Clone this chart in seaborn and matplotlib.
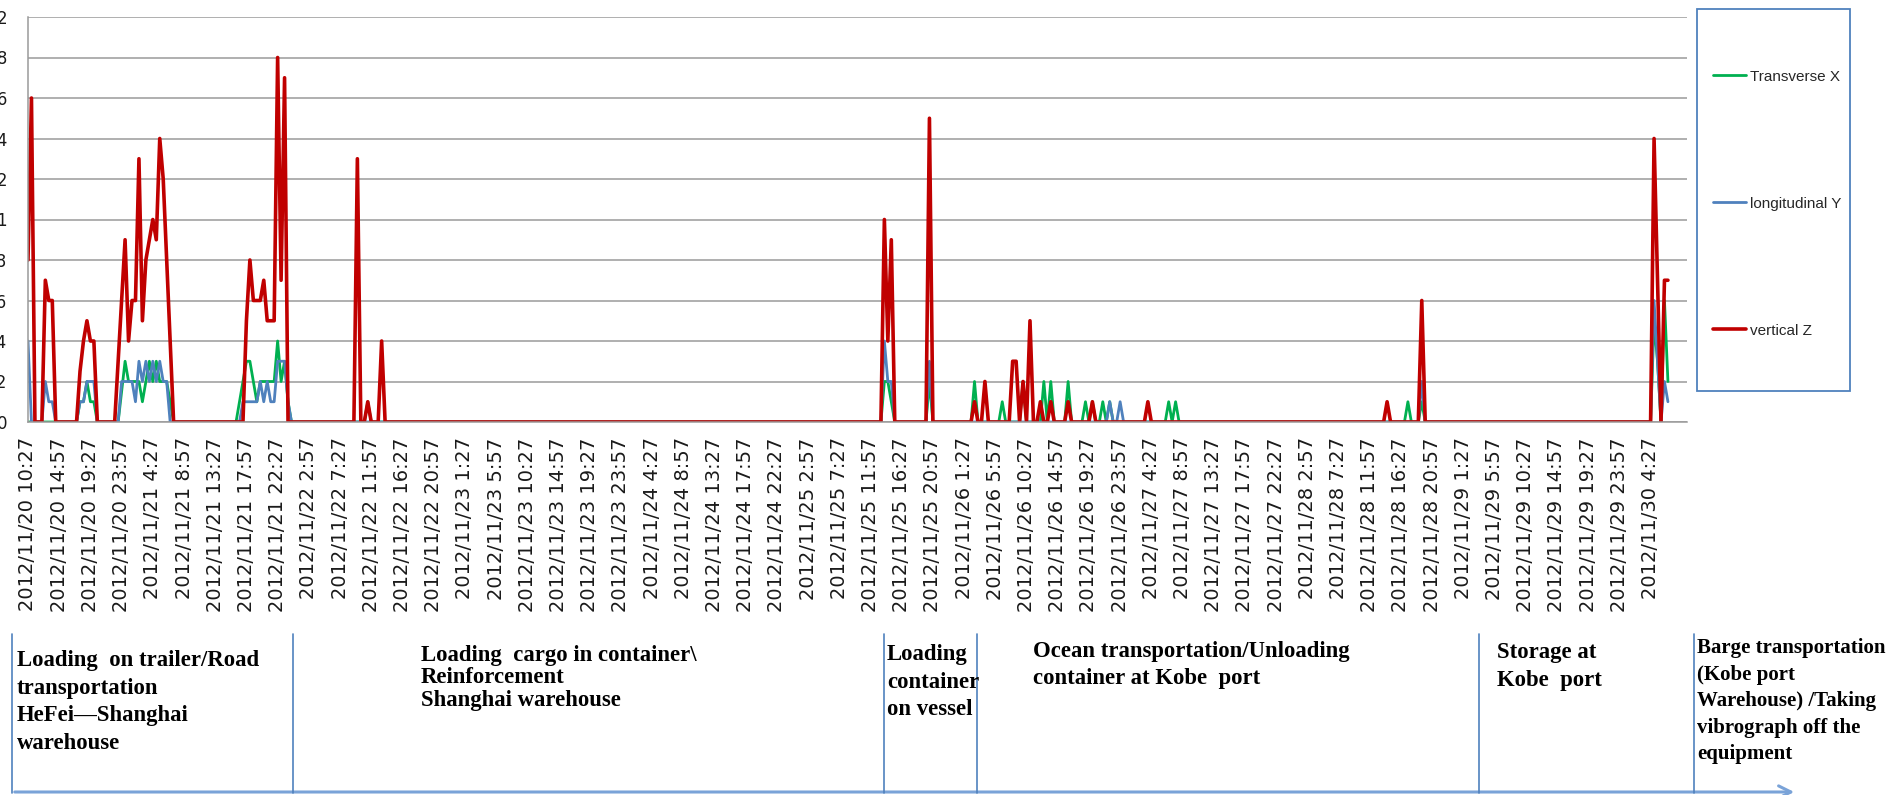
import numpy as np
import pandas as pd
import matplotlib
matplotlib.use("Agg")
import matplotlib.pyplot as plt
import seaborn as sns
from matplotlib.lines import Line2D
from matplotlib.patches import Rectangle, FancyArrowPatch
from matplotlib.ticker import MultipleLocator, FuncFormatter

# ---------------- data ----------------
N_POINTS = 474          # 30-minute samples from 2012/11/20 10:27
TICK_STEP = 9           # one label every 4.5 hours

tick_labels = [
    "2012/11/20 10:27", "2012/11/20 14:57", "2012/11/20 19:27", "2012/11/20 23:57",
    "2012/11/21 4:27", "2012/11/21 8:57", "2012/11/21 13:27", "2012/11/21 17:57", "2012/11/21 22:27",
    "2012/11/22 2:57", "2012/11/22 7:27", "2012/11/22 11:57", "2012/11/22 16:27", "2012/11/22 20:57",
    "2012/11/23 1:27", "2012/11/23 5:57", "2012/11/23 10:27", "2012/11/23 14:57", "2012/11/23 19:27",
    "2012/11/23 23:57",
    "2012/11/24 4:27", "2012/11/24 8:57", "2012/11/24 13:27", "2012/11/24 17:57", "2012/11/24 22:27",
    "2012/11/25 2:57", "2012/11/25 7:27", "2012/11/25 11:57", "2012/11/25 16:27", "2012/11/25 20:57",
    "2012/11/26 1:27", "2012/11/26 5:57", "2012/11/26 10:27", "2012/11/26 14:57", "2012/11/26 19:27",
    "2012/11/26 23:57",
    "2012/11/27 4:27", "2012/11/27 8:57", "2012/11/27 13:27", "2012/11/27 17:57", "2012/11/27 22:27",
    "2012/11/28 2:57", "2012/11/28 7:27", "2012/11/28 11:57", "2012/11/28 16:27", "2012/11/28 20:57",
    "2012/11/29 1:27", "2012/11/29 5:57", "2012/11/29 10:27", "2012/11/29 14:57", "2012/11/29 19:27",
    "2012/11/29 23:57",
    "2012/11/30 4:27",
]

series_names = ["Transverse X", "longitudinal Y", "vertical Z"]

# non-zero stretches: (first sample index, values); all other samples read as 0
transverse_x_segments = [
    (15, [0.1, 0.1, 0.2, 0.1, 0.1, 0]),
    (27, [0.15, 0.3, 0.2, 0.2, 0.2, 0.2, 0.1, 0.2, 0.3, 0.2, 0.3, 0.2, 0.2, 0.2, 0.1, 0]),
    (61, [0.1, 0.2, 0.3, 0.3, 0.2, 0.1, 0.2, 0.2, 0.2, 0.2, 0.2, 0.4, 0.2, 0.3, 0.1, 0]),
    (98, [0.1]),
    (247, [0.2, 0.2, 0.1]),
    (260, [0.2]),
    (273, [0.2]), (281, [0.1]), (287, [0.2]), (293, [0.2]), (295, [0.2]),
    (300, [0.2]), (305, [0.1]), (307, [0.1]), (310, [0.1]), (312, [0.1]),
    (329, [0.1]), (331, [0.1]), (398, [0.1]), (402, [0.1]),
    (469, [0.5, 0.3, 0, 0.6, 0.2]),
]

longitudinal_y_segments = [
    (0, [0.4, 0, 0, 0, 0, 0.2, 0.1, 0.1, 0]),
    (15, [0.1, 0.1, 0.2, 0.2, 0.2, 0]),
    (27, [0.2, 0.2, 0.2, 0.2, 0.1, 0.3, 0.2, 0.3, 0.2, 0.3, 0.2, 0.3, 0.2, 0.2, 0]),
    (62, [0.1, 0.1, 0.1, 0.1, 0.1, 0.2, 0.1, 0.2, 0.1, 0.1, 0.3, 0.3, 0.3, 0.1, 0]),
    (247, [0.4, 0.2, 0.2, 0]),
    (260, [0.3]),
    (312, [0.1]), (315, [0.1]),
    (402, [0.2]),
    (469, [0.6, 0.3, 0, 0.2, 0.1]),
]

vertical_z_segments = [
    (0, [0.8, 1.6, 0, 0, 0, 0.7, 0.6, 0.6, 0]),
    (14, [0, 0.25, 0.4, 0.5, 0.4, 0.4, 0]),
    (25, [0, 0.3, 0.6, 0.9, 0.4, 0.6, 0.6, 1.3, 0.5, 0.8, 0.9, 1.0, 0.9, 1.4, 1.2, 0.8, 0.4, 0]),
    (62, [0, 0.5, 0.8, 0.6, 0.6, 0.6, 0.7, 0.5, 0.5, 0.5, 1.8, 0.7, 1.7, 0]),
    (94, [0, 1.3, 0, 0, 0.1, 0, 0, 0, 0.4, 0]),
    (246, [0, 1.0, 0.4, 0.9, 0]),
    (259, [0, 1.5, 0]),
    (273, [0.1]), (276, [0.2]), (284, [0.3, 0.3]), (287, [0.2]), (289, [0.5]),
    (292, [0.1]), (295, [0.1]), (300, [0.1]), (307, [0.1]), (323, [0.1]),
    (392, [0.1]), (402, [0.6]),
    (469, [1.4, 0.7, 0, 0.7, 0.7]),
]

phase_texts = [
    "Loading  on trailer/Road\ntransportation\nHeFei\u2014Shanghai\nwarehouse",
    "Loading  cargo in container\\\nReinforcement\nShanghai warehouse",
    "Loading\ncontainer\non vessel",
    "Ocean transportation/Unloading\ncontainer at Kobe  port",
    "Storage at\nKobe  port",
    "Barge transportation\n(Kobe port\nWarehouse) /Taking\nvibrograph off the\nequipment",
]


def build(segments):
    arr = np.zeros(N_POINTS)
    for start, vals in segments:
        arr[start:start + len(vals)] = vals
    return arr


sample = np.arange(N_POINTS)
df = pd.DataFrame({
    "sample": sample,
    "Transverse X": build(transverse_x_segments),
    "longitudinal Y": build(longitudinal_y_segments),
    "vertical Z": build(vertical_z_segments),
})

# ---------------- style ----------------
sns.set_style("white")
plt.rcParams["font.family"] = ["DejaVu Sans"]

W, H = 1888, 795
fig = plt.figure(figsize=(W / 100, H / 100), dpi=100)
ax = fig.add_axes([28 / W, (H - 422) / H, 1659 / W, 405 / H])

colors = {"Transverse X": "#00B050", "longitudinal Y": "#4F81BD", "vertical Z": "#C00000"}
widths = {"Transverse X": 2.0, "longitudinal Y": 2.0, "vertical Z": 2.6}

for name in series_names:
    sns.lineplot(data=df, x="sample", y=name, color=colors[name], linewidth=widths[name],
                 ax=ax, legend=False, errorbar=None)

ax.set_xlim(0, 478.5)
ax.set_ylim(0, 2.0)
ax.set_xlabel("")
ax.set_ylabel("")

ax.set_xticks(np.arange(0, len(tick_labels) * TICK_STEP, TICK_STEP))
ax.set_xticklabels(tick_labels, rotation=90, fontsize=14, color="#1a1a1a")
ax.xaxis.set_minor_locator(MultipleLocator(1))
ax.tick_params(axis="x", which="both", direction="out", length=6, width=0.7,
               color="#8c8c8c", pad=5)
ax.tick_params(axis="x", which="major", labelsize=14)

ax.set_yticks(np.round(np.arange(0, 2.01, 0.2), 1))
ax.yaxis.set_major_formatter(FuncFormatter(lambda v, p: f"{v:g}"))
ax.yaxis.set_minor_locator(MultipleLocator(0.04))
ax.tick_params(axis="y", which="both", direction="in", length=5, width=0.7,
               color="#8c8c8c")
ax.tick_params(axis="y", which="major", pad=15, labelsize=12, labelcolor="#1a1a1a")

ax.grid(axis="y", color="#9a9a9a", linewidth=1.1)
ax.grid(axis="x", visible=False)
ax.set_axisbelow(True)
for side in ["top", "right"]:
    ax.spines[side].set_visible(False)
for side in ["left", "bottom"]:
    ax.spines[side].set_color("#9a9a9a")
    ax.spines[side].set_linewidth(1.1)

# legend (entries spread out inside a tall box at the right)
handles = [Line2D([0], [0], color=colors[n], linewidth=widths[n]) for n in series_names]
ax.legend(handles, series_names, loc="upper left",
          bbox_to_anchor=(1705 / W, 1 - 62 / H), bbox_transform=fig.transFigure,
          frameon=False, borderpad=0, labelspacing=7.4, handlelength=2.2,
          handletextpad=0.25, prop={"family": "Liberation Sans", "size": 11})
fig.add_artist(Rectangle((1697 / W, 1 - 391 / H), 153 / W, 382 / H, transform=fig.transFigure,
                         fill=False, edgecolor="#4F81BD", linewidth=1.3))

# transport phase annotations below the axis
for xs in [12, 293, 884, 977, 1479, 1694]:
    fig.add_artist(Line2D([xs / W, xs / W], [1 - 634 / H, 1 - 793 / H],
                          color="#4F81BD", linewidth=1.2, transform=fig.transFigure))
fig.add_artist(FancyArrowPatch((12 / W, 1 - 792 / H), (1797 / W, 1 - 792 / H),
                               arrowstyle="->", mutation_scale=22, color="#7aa3d8",
                               linewidth=2.2, transform=fig.transFigure))

text_specs = [  # (left px, top px, fontsize, linespacing)
    (17, 650, 16.4, 1.42),
    (421, 645, 16.4, 1.09),
    (887, 644, 16.4, 1.42),
    (1033, 641, 16.4, 1.36),
    (1497, 642, 16.4, 1.42),
    (1697, 638, 15.0, 1.44),
]
for txt, (lx, ty, fs, ls) in zip(phase_texts, text_specs):
    fig.text(lx / W, 1 - ty / H, txt, ha="left", va="top", fontsize=fs,
             family="Liberation Serif", fontweight="bold", linespacing=ls, color="black")

fig.savefig("out.png", dpi=100)
